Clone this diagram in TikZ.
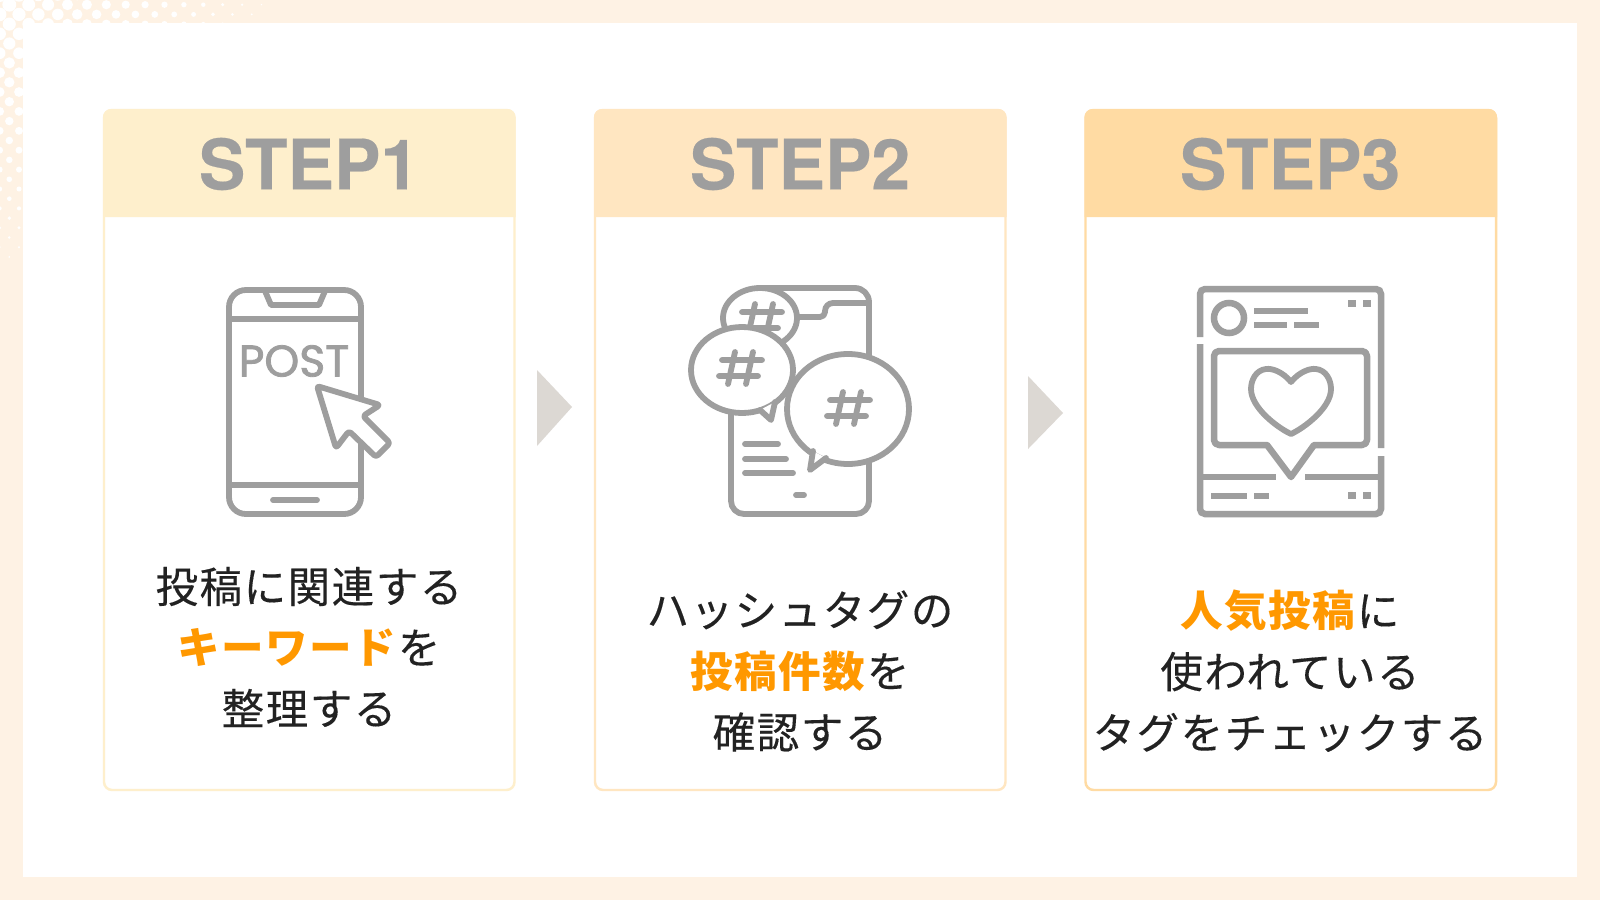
\documentclass[tikz,border=0pt]{standalone}
\usepackage{fontspec}
\setmainfont{Noto Sans CJK JP}[LetterSpace=3.5,FakeBold=0.25,BoldFeatures={FakeBold=0}]
\newfontfamily\stepfont{TeX Gyre Heros}[BoldFeatures={FakeBold=0.3}]
\newfontfamily\postfont{Poppins}[FakeBold=1.8]
\usepackage{tikz}
\usetikzlibrary{positioning}
\definecolor{framecol}{HTML}{FEF2E4}
\definecolor{stepacol}{HTML}{FEEFCC}
\definecolor{stepbcol}{HTML}{FFE6C1}
\definecolor{stepccol}{HTML}{FFDBA3}
\definecolor{icongray}{HTML}{9E9E9E}
\definecolor{markcol}{HTML}{FF9800}
\definecolor{inkcol}{HTML}{222222}
\definecolor{pointcol}{HTML}{DCD8D3}
\tikzset{
  icon/.style={draw=icongray,line width=1.65pt,line cap=round,line join=round},
  solidbar/.style={draw=icongray,line width=1.85pt},
  steptitle/.style={text=icongray,font=\stepfont\bfseries\fontsize{19.8}{22}\selectfont},
  desc/.style={text=inkcol,align=center,font=\fontsize{12.1}{17.35}\selectfont},
}
\newcommand{\mk}[1]{\textcolor{markcol}{\textbf{#1}}}
\newcommand{\hashmark}[2]{
  \draw[icon,shift={(#1,#2)}] (-18,-8) -- (22,-8) (-21,8) -- (18,8) (-5,-16) -- (-12,16) (13,-16) -- (6,16);
}
\begin{document}
\begin{tikzpicture}[x=0.01cm,y=-0.01cm]
\useasboundingbox (0,0) rectangle (1600,900);
%draw frame
\fill[framecol] (0,0) rectangle (1600,900);
%draw halftone dots
\foreach \i in {-1,...,26}{
  \foreach \j in {-1,...,26}{
    \pgfmathparse{int(mod(\i+\j+2,2)==0 && (\i<3 || \j<3))}
    \ifnum\pgfmathresult=1
      \pgfmathsetmacro{\dx}{9.3+9.7*\i}
      \pgfmathsetmacro{\dy}{4.7+9.7*\j}
      \pgfmathsetmacro{\dr}{7.2-0.0245*veclen(\dx,\dy)}
      \pgfmathparse{\dr>0.2 ? 1 : 0}
      \ifnum\pgfmathresult=1
        \fill[white] (\dx,\dy) circle (\dr);
      \fi
    \fi
  }
}
\fill[white] (23,23) rectangle (1577,877);
%draw cards
\foreach \x/\col in {103/stepacol, 594/stepbcol, 1084.5/stepccol}{
  \draw[\col,line width=0.7pt,rounded corners=2.3pt] (\x+1,110) rectangle (\x+411.5,790);
  \fill[\col] (\x,217) -- (\x,117) arc (180:270:8) -- (\x+404.5,109) arc (270:360:8) -- (\x+412.5,217) -- cycle;
}
%draw step titles
\node[steptitle] (stepa) at (309,164) {STEP1};
\node[steptitle] (stepb) at (800,164) {STEP2};
\node[steptitle] (stepc) at (1290,164) {STEP3};
%draw arrows between cards
\fill[pointcol] (537,370) -- (572,407) -- (537,446) -- cycle;
\fill[pointcol] (1028,376) -- (1063,413) -- (1028,449) -- cycle;
% phone with cursor
\draw[icon,rounded corners=4.8pt] (229,290) rectangle (361,514);
\draw[icon] (229,319) -- (361,319);
\draw[icon] (229,485) -- (361,485);
\draw[icon] (265,291) -- (271,305) -- (319,305) -- (325,291);
\draw[icon] (273,500) -- (317,500);
\node[text=icongray,font=\postfont\fontsize{12.6}{14}\selectfont] (posttext) at (294,361) {POST};
\draw[icon,fill=white,rounded corners=0.8pt] (317,386) -- (380,405) -- (363,416) -- (390,443) -- (376,457) -- (349,431) -- (336,448) -- cycle;
% phone with hashtags
\draw[icon] (762,288) -- (855,288) arc (270:360:14) -- (869,501) arc (0:90:13) -- (744,514) arc (90:180:13) -- (731,400);
\draw[icon] (795,317) -- (820,317) arc (90:0:5) -- (825,311) arc (180:270:8) -- (869,303);
\draw[icon] (745,444) -- (778,444);
\draw[icon] (745,459) -- (786,459);
\draw[icon] (745,473) -- (793,473);
\draw[icon] (796,495) -- (804,495);
\draw[icon,fill=white] (760,318) ellipse [x radius=37,y radius=30];
\hashmark{760}{320}
\draw[icon,fill=white] (742,370) ellipse [x radius=51,y radius=43];
\draw[icon,fill=white] (760,410) -- (771,420) -- (775,402);
\hashmark{740}{368}
\draw[icon,fill=white] (848,409) ellipse [x radius=61,y radius=55];
\draw[icon,fill=white] (813,451) -- (810,470) -- (826,458);
\hashmark{848}{408}
% post with heart
\draw[solidbar] (1200,337) -- (1200,294) arc (180:270:5) -- (1376,289) arc (270:360:5) -- (1381,448);
\draw[solidbar] (1381,456) -- (1381,509) arc (0:90:5) -- (1205,514) arc (90:180:5) -- (1200,344);
\draw[solidbar] (1229,318) circle (15);
\draw[solidbar] (1254,311) -- (1308,311);
\draw[solidbar] (1254,325) -- (1287,325);
\draw[solidbar] (1294,325) -- (1319,325);
\draw[solidbar,line join=round] (1267,445) -- (1219,445) arc (90:180:5) -- (1214,356) arc (180:270:5) -- (1362,351) arc (270:360:5) -- (1367,440) arc (0:90:5) -- (1314,445) -- (1291,477) -- cycle;
\draw[icon] (1291,382) .. controls (1283,372) and (1272,368) .. (1266,369) .. controls (1256,370) and (1251,380) .. (1251,389) .. controls (1251,408) and (1278,428) .. (1291,434) .. controls (1304,428) and (1331,408) .. (1331,389) .. controls (1331,380) and (1326,370) .. (1316,369) .. controls (1310,368) and (1299,372) .. (1291,382) -- cycle;
\draw[solidbar] (1200,477) -- (1276,477);
\draw[solidbar] (1305,477) -- (1381,477);
\draw[solidbar] (1211,496) -- (1247,496);
\draw[solidbar] (1254,496) -- (1269,496);
\foreach \x in {1348,1363}{
  \fill[icongray] (\x,300) rectangle (\x+7.5,307);
  \fill[icongray] (\x,492) rectangle (\x+7.5,499);
}
%draw descriptions
\node[desc] (desca) at (309,647) {投稿に関連する\\\mk{キーワード}を\\整理する};
\node[desc] (descb) at (800,671) {ハッシュタグの\\\mk{投稿件数}を\\確認する};
\node[desc] (descc) at (1290,671) {\mk{人気投稿}に\\使われている\\タグをチェックする};
\end{tikzpicture}
\end{document}
